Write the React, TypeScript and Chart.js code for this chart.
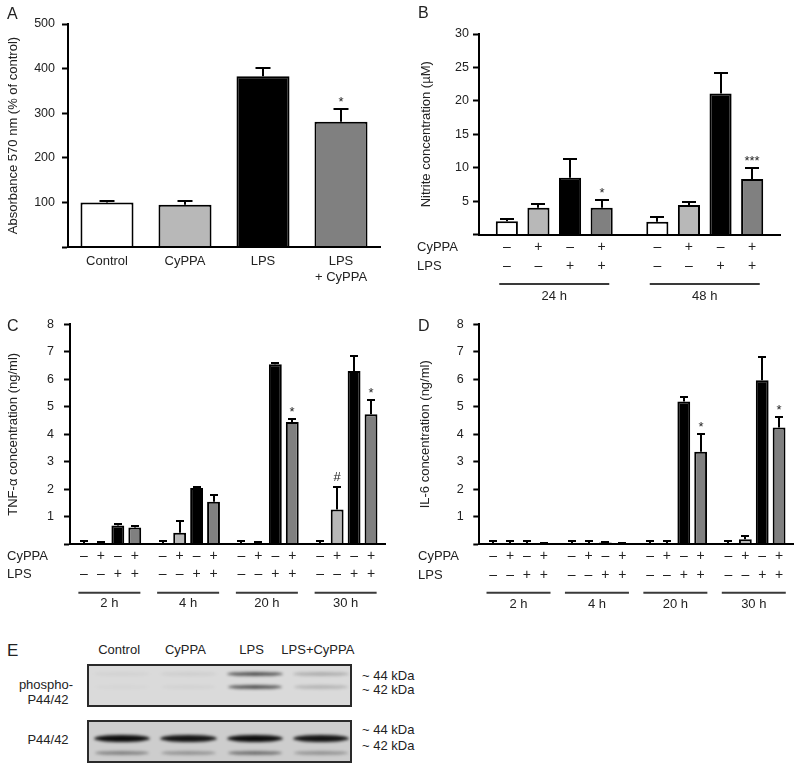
import React, { useEffect, useRef } from 'react';
import { Chart, registerables } from 'chart.js';

Chart.register(...registerables);

const FONT = '"Liberation Sans", Arial, Helvetica, sans-serif';
const TEXT = '#222';

// ---------- Panel A ----------
const aCategories: (string | string[])[] = ['Control', 'CyPPA', 'LPS', ['LPS', '+ CyPPA']];
const aValues = [100, 95, 383, 281];
const aErrorTop = [104, 103, 402, 309];
const aMarks = ['', '', '', '*'];
const aColors = ['#ffffff', '#b8b8b8', '#000000', '#808080'];

// ---------- shared treatment layout for B, C, D ----------
const treatments = ['Control', 'CyPPA', 'LPS', 'LPS + CyPPA'];
const treatmentColors = ['#ffffff', '#b8b8b8', '#000000', '#808080'];
const cyppaSigns = ['\u2013', '+', '\u2013', '+'];
const lpsSigns = ['\u2013', '\u2013', '+', '+'];

// ---------- Panel B (nitrite, µM) ----------
const bTimes = ['24 h', '48 h'];
const bControl = [2.0, 1.9];
const bCyPPA = [4.0, 4.4];
const bLPS = [8.5, 21.1];
const bLPSCyPPA = [4.0, 8.3];
const bControlErr = [2.3, 2.6];
const bCyPPAErr = [4.5, 4.8];
const bLPSErr = [11.3, 24.2];
const bLPSCyPPAErr = [5.2, 10.0];
const bLPSCyPPAMarks = ['*', '***'];

// ---------- Panel C (TNF-α, ng/ml) ----------
const cTimes = ['2 h', '4 h', '20 h', '30 h'];
const cControl = [0.04, 0.03, 0.03, 0.02];
const cCyPPA = [0.02, 0.42, 0.04, 1.27];
const cLPS = [0.68, 2.05, 6.55, 6.3];
const cLPSCyPPA = [0.61, 1.55, 4.45, 4.73];
const cControlErr = [0.12, 0.12, 0.12, 0.12];
const cCyPPAErr = [0.1, 0.85, 0.08, 2.07];
const cLPSErr = [0.75, 2.1, 6.6, 6.84];
const cLPSCyPPAErr = [0.66, 1.81, 4.56, 5.24];
const cCyPPAMarks = ['', '', '', '#'];
const cLPSCyPPAMarks = ['', '', '*', '*'];

// ---------- Panel D (IL-6, ng/ml) ----------
const dTimes = ['2 h', '4 h', '20 h', '30 h'];
const dControl = [0.01, 0.01, 0.01, 0.01];
const dCyPPA = [0.01, 0.01, 0.01, 0.18];
const dLPS = [0.01, 0.07, 5.19, 5.97];
const dLPSCyPPA = [0.01, 0.03, 3.37, 4.25];
const dControlErr = [0.12, 0.12, 0.12, 0.12];
const dCyPPAErr = [0.12, 0.12, 0.12, 0.3];
const dLPSErr = [0.12, 0.1, 5.37, 6.8];
const dLPSCyPPAErr = [0.05, 0.04, 4.01, 4.64];
const dLPSCyPPAMarks = ['', '', '*', '*'];

// ---------- Panel E (western blot) ----------
const blotLanes = ['Control', 'CyPPA', 'LPS', 'LPS+CyPPA'];
const phosphoUpper = [0.03, 0.05, 0.62, 0.2];
const phosphoLower = [0.02, 0.03, 0.62, 0.17];
const totalUpper = [0.94, 0.9, 0.94, 0.9];
const totalLower = [0.36, 0.28, 0.45, 0.28];

type DecorCfg = {
  cap: number;
  markFont?: number;
  categoryLabels?: { y: number; lineGap: number };
  rows?: {
    labelX: number;
    rowY: [number, number];
    lineY: number;
    lineHalf: number;
    groupLabelY: number;
  };
};

function makeDecor(cfg: DecorCfg) {
  return {
    id: 'decor',
    afterDatasetsDraw(chart: any) {
      const ctx: CanvasRenderingContext2D = chart.ctx;
      const yScale = chart.scales.y;
      ctx.save();
      chart.data.datasets.forEach((ds: any, di: number) => {
        const meta = chart.getDatasetMeta(di);
        const errs: number[] = ds.errorTop || [];
        const marks: string[] = ds.marks || [];
        meta.data.forEach((el: any, i: number) => {
          const x = Math.round(el.x);
          const yv = yScale.getPixelForValue(ds.data[i]);
          const ye = Math.round(yScale.getPixelForValue(errs[i]));
          ctx.strokeStyle = '#000';
          ctx.lineWidth = 2;
          ctx.beginPath();
          ctx.moveTo(x, yv);
          ctx.lineTo(x, ye);
          ctx.moveTo(x - cfg.cap / 2, ye);
          ctx.lineTo(x + cfg.cap / 2, ye);
          ctx.stroke();
          const m = marks[i];
          if (m) {
            ctx.fillStyle = TEXT;
            ctx.font = `${cfg.markFont || 13}px ${FONT}`;
            ctx.textAlign = 'center';
            ctx.textBaseline = 'alphabetic';
            const off = m.includes('*') ? 3 : 6;
            ctx.fillText(m, x, ye - off);
          }
        });
      });
      ctx.restore();
    },
    afterDraw(chart: any) {
      const ctx: CanvasRenderingContext2D = chart.ctx;
      const xScale = chart.scales.x;
      ctx.save();
      ctx.fillStyle = TEXT;
      ctx.font = `13px ${FONT}`;
      ctx.textBaseline = 'middle';
      if (cfg.categoryLabels) {
        const labels = chart.data.labels as (string | string[])[];
        labels.forEach((lab, i) => {
          const x = xScale.getPixelForValue(i);
          const lines = Array.isArray(lab) ? lab : [lab];
          ctx.textAlign = 'center';
          lines.forEach((ln, k) => {
            ctx.fillText(ln, x, cfg.categoryLabels!.y + k * cfg.categoryLabels!.lineGap);
          });
        });
      }
      if (cfg.rows) {
        const r = cfg.rows;
        ctx.textAlign = 'left';
        ctx.fillText('CyPPA', r.labelX, r.rowY[0]);
        ctx.fillText('LPS', r.labelX, r.rowY[1]);
        const labels = chart.data.labels as string[];
        labels.forEach((lab, i) => {
          ctx.font = `14px ${FONT}`;
          chart.data.datasets.forEach((_ds: any, di: number) => {
            const el = chart.getDatasetMeta(di).data[i];
            ctx.textAlign = 'center';
            ctx.fillText(cyppaSigns[di], el.x, r.rowY[0]);
            ctx.fillText(lpsSigns[di], el.x, r.rowY[1]);
          });
          ctx.font = `13px ${FONT}`;
          const cx = xScale.getPixelForValue(i);
          ctx.strokeStyle = '#3a3a3a';
          ctx.lineWidth = 2;
          ctx.beginPath();
          ctx.moveTo(cx - r.lineHalf, r.lineY);
          ctx.lineTo(cx + r.lineHalf, r.lineY);
          ctx.stroke();
          ctx.textAlign = 'center';
          ctx.fillText(lab, cx, r.groupLabelY);
        });
      }
      ctx.restore();
    },
  };
}

type AxisCfg = {
  max: number;
  step: number;
  title: string;
  titlePad: number;
  tickPad: number;
  axisWidth: number;
};

function baseOptions(ax: AxisCfg, padding: { top: number; right: number; bottom: number }) {
  return {
    responsive: false,
    animation: false,
    events: [],
    layout: { padding: { left: 0, top: padding.top, right: padding.right, bottom: padding.bottom } },
    plugins: { legend: { display: false }, tooltip: { enabled: false } },
    scales: {
      x: {
        type: 'category',
        grid: { display: false },
        ticks: { display: false },
        border: { display: true, color: '#000', width: 2, z: 1 },
        afterFit: (s: any) => {
          s.height = 0;
        },
      },
      y: {
        min: 0,
        max: ax.max,
        ticks: {
          stepSize: ax.step,
          padding: ax.tickPad,
          color: TEXT,
          font: { size: 12.5, family: FONT },
          callback: (v: any) => (Number(v) === 0 ? '' : String(v)),
        },
        grid: {
          display: true,
          drawOnChartArea: false,
          drawTicks: true,
          tickLength: 6,
          tickWidth: 2,
          tickColor: '#000',
        },
        border: { display: true, color: '#000', width: 2, z: 1 },
        title: {
          display: true,
          text: ax.title,
          color: TEXT,
          font: { size: 13, family: FONT },
          padding: { top: ax.titlePad, bottom: 0 },
        },
        afterFit: (s: any) => {
          s.width = ax.axisWidth;
        },
      },
    },
  };
}

function groupedDatasets(values: number[][], errs: number[][], marks: (string[] | undefined)[], catPct: number, barPct: number) {
  return treatments.map((t, i) => ({
    label: t,
    data: values[i],
    backgroundColor: treatmentColors[i],
    borderColor: '#000',
    borderWidth: 2,
    errorTop: errs[i],
    marks: marks[i],
    categoryPercentage: catPct,
    barPercentage: barPct,
  }));
}

function ChartCanvas(props: { left: number; top: number; width: number; height: number; make: () => any }) {
  const ref = useRef<HTMLCanvasElement | null>(null);
  useEffect(() => {
    if (!ref.current) return;
    const chart = new Chart(ref.current, props.make());
    return () => chart.destroy();
  }, []);
  return (
    <canvas
      ref={ref}
      width={props.width}
      height={props.height}
      style={{ position: 'absolute', left: props.left, top: props.top, width: props.width, height: props.height }}
    />
  );
}

function makeA() {
  return {
    type: 'bar',
    data: {
      labels: aCategories,
      datasets: [
        {
          data: aValues,
          backgroundColor: aColors,
          borderColor: '#000',
          borderWidth: 2,
          errorTop: aErrorTop,
          marks: aMarks,
          categoryPercentage: 1,
          barPercentage: 0.68,
        },
      ],
    },
    options: baseOptions(
      { max: 500, step: 100, title: 'Absorbance 570 nm (% of control)', titlePad: 6, tickPad: 7, axisWidth: 68 },
      { top: 24, right: 20, bottom: 43 }
    ),
    plugins: [makeDecor({ cap: 15, categoryLabels: { y: 261, lineGap: 16 } })],
  };
}

function makeB() {
  return {
    type: 'bar',
    data: {
      labels: bTimes,
      datasets: groupedDatasets(
        [bControl, bCyPPA, bLPS, bLPSCyPPA],
        [bControlErr, bCyPPAErr, bLPSErr, bLPSCyPPAErr],
        [undefined, undefined, undefined, bLPSCyPPAMarks],
        0.84,
        0.7
      ),
    },
    options: baseOptions(
      { max: 30, step: 5, title: 'Nitrite concentration (\u00b5M)', titlePad: 18.5, tickPad: 4, axisWidth: 79 },
      { top: 34, right: 20, bottom: 75.5 }
    ),
    plugins: [
      makeDecor({
        cap: 14,
        rows: { labelX: 17, rowY: [247, 266], lineY: 284, lineHalf: 55, groupLabelY: 296 },
      }),
    ],
  };
}

function makeC() {
  return {
    type: 'bar',
    data: {
      labels: cTimes,
      datasets: groupedDatasets(
        [cControl, cCyPPA, cLPS, cLPSCyPPA],
        [cControlErr, cCyPPAErr, cLPSErr, cLPSCyPPAErr],
        [undefined, cCyPPAMarks, undefined, cLPSCyPPAMarks],
        0.86,
        0.76
      ),
    },
    options: baseOptions(
      { max: 8, step: 1, title: 'TNF-\u03b1 concentration (ng/ml)', titlePad: 6, tickPad: 10, axisWidth: 70 },
      { top: 24.3, right: 15, bottom: 75.7 }
    ),
    plugins: [
      makeDecor({
        cap: 8,
        rows: { labelX: 7, rowY: [256, 274], lineY: 292.7, lineHalf: 31, groupLabelY: 303.5 },
      }),
    ],
  };
}

function makeD() {
  return {
    type: 'bar',
    data: {
      labels: dTimes,
      datasets: groupedDatasets(
        [dControl, dCyPPA, dLPS, dLPSCyPPA],
        [dControlErr, dCyPPAErr, dLPSErr, dLPSCyPPAErr],
        [undefined, undefined, undefined, dLPSCyPPAMarks],
        0.86,
        0.76
      ),
    },
    options: baseOptions(
      { max: 8, step: 1, title: 'IL-6 concentration (ng/ml)', titlePad: 18, tickPad: 9.5, axisWidth: 79.3 },
      { top: 24.3, right: 7, bottom: 75.7 }
    ),
    plugins: [
      makeDecor({
        cap: 8,
        rows: { labelX: 18, rowY: [256, 275], lineY: 292.7, lineHalf: 32, groupLabelY: 304 },
      }),
    ],
  };
}

function Letter(props: { ch: string; x: number; cy: number; size: number }) {
  return (
    <div
      style={{
        position: 'absolute',
        left: props.x,
        top: props.cy - props.size / 2,
        fontSize: props.size,
        lineHeight: 1,
        fontFamily: FONT,
        color: TEXT,
      }}
    >
      {props.ch}
    </div>
  );
}

function TextAt(props: { text: string; x: number; cy: number; align?: 'left' | 'center'; size?: number }) {
  const size = props.size || 13;
  const style: React.CSSProperties = {
    position: 'absolute',
    top: props.cy - size / 2,
    fontSize: size,
    lineHeight: 1,
    fontFamily: FONT,
    color: TEXT,
    whiteSpace: 'nowrap',
  };
  if (props.align === 'center') {
    style.left = props.x - 100;
    style.width = 200;
    style.textAlign = 'center';
  } else {
    style.left = props.x;
  }
  return <div style={style}>{props.text}</div>;
}

function Blot(props: {
  left: number;
  top: number;
  width: number;
  height: number;
  bg: string;
  upper: number[];
  lower: number[];
  upperY: number;
  lowerY: number;
  upperH: number;
  lowerH: number;
}) {
  const laneW = props.width / blotLanes.length;
  return (
    <div
      style={{
        position: 'absolute',
        left: props.left,
        top: props.top,
        width: props.width,
        height: props.height,
        boxSizing: 'border-box',
        border: '2px solid #2a2a2a',
        background: props.bg,
        overflow: 'hidden',
      }}
    >
      {blotLanes.map((lane, i) => (
        <React.Fragment key={lane}>
          <div
            style={{
              position: 'absolute',
              left: i * laneW + 5,
              width: laneW - 10,
              top: props.upperY - props.upperH / 2,
              height: props.upperH,
              borderRadius: '50%',
              background: `rgba(0,0,0,${props.upper[i]})`,
              filter: 'blur(1.5px)',
            }}
          />
          <div
            style={{
              position: 'absolute',
              left: i * laneW + 6,
              width: laneW - 12,
              top: props.lowerY - props.lowerH / 2,
              height: props.lowerH,
              borderRadius: '50%',
              background: `rgba(0,0,0,${props.lower[i]})`,
              filter: 'blur(1.5px)',
            }}
          />
        </React.Fragment>
      ))}
    </div>
  );
}

export default function App() {
  const blotLeft = 87;
  const blotWidth = 265;
  const laneW = blotWidth / blotLanes.length;
  return (
    <div
      style={{
        position: 'absolute',
        left: 0,
        top: 0,
        width: 800,
        height: 769,
        background: '#fff',
        overflow: 'hidden',
      }}
    >
      <ChartCanvas left={0} top={0} width={400} height={290} make={makeA} />
      <ChartCanvas left={400} top={0} width={400} height={310} make={makeB} />
      <ChartCanvas left={0} top={300} width={400} height={320} make={makeC} />
      <ChartCanvas left={400} top={300} width={400} height={320} make={makeD} />

      <Letter ch="A" x={7} cy={14} size={16} />
      <Letter ch="B" x={418} cy={13} size={16} />
      <Letter ch="C" x={7} cy={326} size={16} />
      <Letter ch="D" x={418} cy={326} size={16} />
      <Letter ch="E" x={7} cy={650} size={17} />

      {blotLanes.map((lane, i) => (
        <TextAt key={lane} text={lane} x={blotLeft + (i + 0.5) * laneW - 1} cy={649} align="center" />
      ))}
      <TextAt text="phospho-" x={46} cy={684} align="center" />
      <TextAt text="P44/42" x={48} cy={699} align="center" />
      <TextAt text="P44/42" x={48} cy={739} align="center" />
      <TextAt text="~ 44 kDa" x={362} cy={675} />
      <TextAt text="~ 42 kDa" x={362} cy={689} />
      <TextAt text="~ 44 kDa" x={362} cy={729} />
      <TextAt text="~ 42 kDa" x={362} cy={745} />

      <Blot
        left={blotLeft}
        top={663.5}
        width={blotWidth}
        height={43}
        bg="#dadada"
        upper={phosphoUpper}
        lower={phosphoLower}
        upperY={8}
        lowerY={21.5}
        upperH={4}
        lowerH={4}
      />
      <Blot
        left={blotLeft}
        top={719.5}
        width={blotWidth}
        height={43.5}
        bg="#cdcdcd"
        upper={totalUpper}
        lower={totalLower}
        upperY={17}
        lowerY={31}
        upperH={7}
        lowerH={4}
      />
    </div>
  );
}
